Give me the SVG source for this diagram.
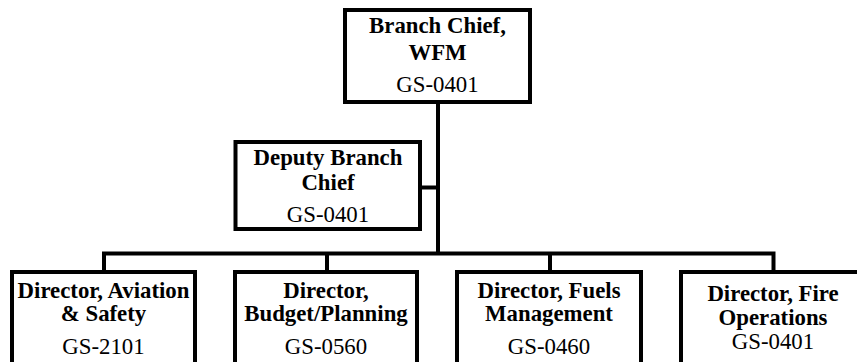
<svg xmlns="http://www.w3.org/2000/svg" width="857" height="362" viewBox="0 0 857 362">
<style>
.box{fill:#fff;stroke:#000;stroke-width:4}
.ln{fill:none;stroke:#000;stroke-width:4}
.t{font-family:"Liberation Serif","Times New Roman",serif;font-size:22.8px;text-anchor:middle;fill:#000}
.b{font-weight:bold}
</style>
<rect width="857" height="362" fill="#fff"/>
<g id="connectors">
<path class="ln" d="M438 102 V253.5"/>
<path class="ln" d="M420 187.5 H438"/>
<path class="ln" d="M104 272 V253.5 H773.5 V272"/>
<path class="ln" d="M327 253.5 V272"/>
<path class="ln" d="M550 253.5 V272"/>
</g>
<g id="branch-chief">
<rect class="box" x="345" y="10" width="185" height="92"/>
<text class="t b" x="437.5" y="33">Branch Chief,</text>
<text class="t b" x="437.5" y="59.5">WFM</text>
<text class="t" x="437.5" y="91.5">GS-0401</text>
</g>
<g id="deputy">
<rect class="box" x="235.5" y="142" width="184.5" height="87"/>
<text class="t b" x="328" y="165">Deputy Branch</text>
<text class="t b" x="328" y="190">Chief</text>
<text class="t" x="328" y="222">GS-0401</text>
</g>
<g id="aviation">
<rect class="box" x="12" y="272" width="183" height="110"/>
<text class="t b" x="103.5" y="297.5">Director, Aviation</text>
<text class="t b" x="103.5" y="321">&amp; Safety</text>
<text class="t" x="103.5" y="353.5">GS-2101</text>
</g>
<g id="budget">
<rect class="box" x="235" y="272" width="182" height="110"/>
<text class="t b" x="326" y="297.5">Director,</text>
<text class="t b" x="326" y="321">Budget/Planning</text>
<text class="t" x="326" y="353.5">GS-0560</text>
</g>
<g id="fuels">
<rect class="box" x="457" y="272" width="184" height="110"/>
<text class="t b" x="549" y="297.5">Director, Fuels</text>
<text class="t b" x="549" y="321">Management</text>
<text class="t" x="549" y="353.5">GS-0460</text>
</g>
<g id="fire">
<rect class="box" x="681" y="272" width="185" height="110"/>
<text class="t b" x="773" y="300.5">Director, Fire</text>
<text class="t b" x="773" y="324.5">Operations</text>
<text class="t" x="773" y="349">GS-0401</text>
</g>
</svg>
